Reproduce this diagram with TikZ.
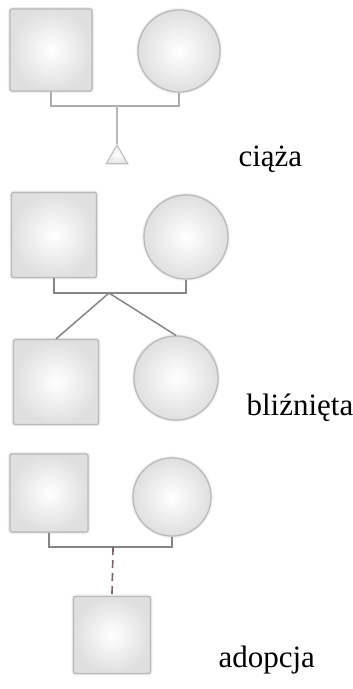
\documentclass[tikz,border=0pt]{standalone}
\usepackage{fontspec}
\setmainfont{Liberation Serif}
\usetikzlibrary{shapes.geometric, positioning, shadows.blur}

\begin{document}
\begin{tikzpicture}[
    x=1pt, y=-1pt,
    person/.style={draw=gray!55, line width=1.2pt, inner sep=0pt, inner color=white, outer color=gray!25,
        blur shadow={shadow xshift=0pt, shadow yshift=0pt, shadow blur radius=2.5pt, shadow opacity=30}},
    male/.style={person, rectangle, rounded corners=2pt, minimum size=#1},
    male/.default=82pt,
    female/.style={person, circle, minimum size=#1},
    female/.default=82pt,
    line/.style={draw=gray!95, line width=1.5pt},
    label/.style={anchor=base west, font=\fontsize{31}{36}\selectfont},
]
\useasboundingbox (0,0) rectangle (353,689);

% ciaza
\node[male] (f1) at (51,50) {};
\node[female] (m1) at (179,51) {};
\coordinate (c1) at (117,106);
\node[regular polygon, regular polygon sides=3, draw=gray!50, line width=1.1pt, inner color=white, outer color=gray!20, minimum size=25pt, inner sep=0pt] (preg) at (117,157.5) {};
\draw[line, draw=gray!65] (f1.south) |- (c1) -| (m1.south);
\draw[line, draw=gray!55] (c1) -- (preg.north);
\node[label] (t1) at (235,166) {ciąża};

% blizniecy
\node[male=85pt] (f2) at (54,235) {};
\node[female=84pt] (m2) at (186,237) {};
\coordinate (c2) at (109,293);
\node[male=85pt] (k2a) at (56,382) {};
\node[female=84pt] (k2b) at (176,378) {};
\draw[line] (f2.south) |- (c2) -| (m2.south);
\draw[line] (c2) -- (k2a.north);
\draw[line] (c2) -- (k2b.north);
\node[label] (t2) at (243,415) {bliźnięta};

% adopcja
\node[male=78pt] (f3) at (49,493) {};
\node[female=78pt] (m3) at (172,497) {};
\coordinate (c3) at (113,547);
\node[male=77pt] (k3) at (112,635) {};
\draw[line] (f3.south) |- (c3) -| (m3.south);
\draw[line, line width=1.7pt, draw={rgb,255:red,120;green,100;blue,100}, dash pattern=on 8pt off 5pt] (c3) -- (k3.north);
\node[label] (t3) at (215,667) {adopcja};

\end{tikzpicture}
\end{document}
